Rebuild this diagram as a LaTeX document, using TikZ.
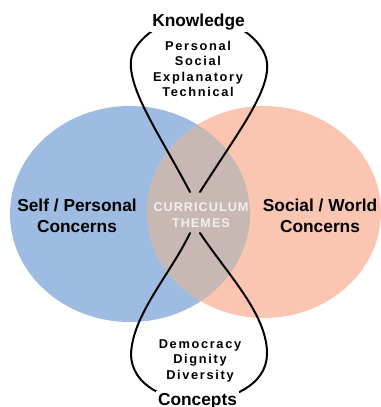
\documentclass[tikz,border=0pt]{standalone}
\usepackage{fontspec}
\setmainfont{Liberation Sans}
\newfontfamily\listfont{Liberation Sans}[LetterSpace=13]
\newfontfamily\themefont{Liberation Sans}[LetterSpace=8]
\definecolor{selfblue}{HTML}{9EBCE2}
\definecolor{worldpink}{HTML}{FAC6B2}
\definecolor{lensgray}{HTML}{C7B8B4}
\definecolor{themewhite}{HTML}{F3EFED}

\begin{document}
\begin{tikzpicture}[x=0.75pt,y=-0.75pt,
  heading/.style={font=\bfseries\fontsize{13}{15.75}\selectfont,align=center,anchor=base},
  listing/.style={font=\listfont\bfseries\fontsize{9.6}{11.6}\selectfont,align=center,anchor=base},
  loopline/.style={line width=1.5pt,line cap=round}]
\useasboundingbox (0,0) rectangle (381,407);
% the two concerns and where they overlap
\fill[selfblue] (130,214) ellipse [x radius=120,y radius=108];
\fill[worldpink] (264,212) ellipse [x radius=117,y radius=106];
\begin{scope}
  \clip (130,214) ellipse [x radius=120,y radius=108];
  \fill[lensgray] (264,212) ellipse [x radius=117,y radius=106];
\end{scope}
\node[heading] (self) at (77,232.7) {Self / Personal\\Concerns};
\node[heading] (world) at (320,232.7) {Social / World\\Concerns};
\node[font=\themefont\bfseries\fontsize{9.5}{12.5}\selectfont,text=themewhite,
  align=center,anchor=base] (themes) at (201,227.7) {CURRICULUM\\THEMES};
% figure eight
\coordinate (tl) at (190,192);
\coordinate (tr) at (200,192);
\coordinate (bl) at (190,233);
\coordinate (br) at (200,233);
\begin{scope}[loopline]
  \draw (tl) .. controls (160,135) and (128,90) .. (131,60)
    .. controls (133,40) and (165,16) .. (198,16)
    .. controls (231,16) and (265,40) .. (267,63)
    .. controls (270,92) and (236,135) .. (tr);
  \draw (bl) .. controls (170,275) and (132,315) .. (131,355)
    .. controls (132,385) and (165,401) .. (198,401)
    .. controls (231,401) and (266,385) .. (267,355)
    .. controls (268,315) and (228,275) .. (br);
\end{scope}
\node[heading,fill=white,inner sep=1.5pt] (knowledge) at (198.5,26.7) {Knowledge};
\node[heading,fill=white,inner sep=1.5pt] (concepts) at (197.5,405) {Concepts};
\node[listing] (kinds) at (198,96.7) {Personal\\Social\\Explanatory\\Technical};
\node[listing] (values) at (200,379) {Democracy\\Dignity\\Diversity};
\end{tikzpicture}
\end{document}
